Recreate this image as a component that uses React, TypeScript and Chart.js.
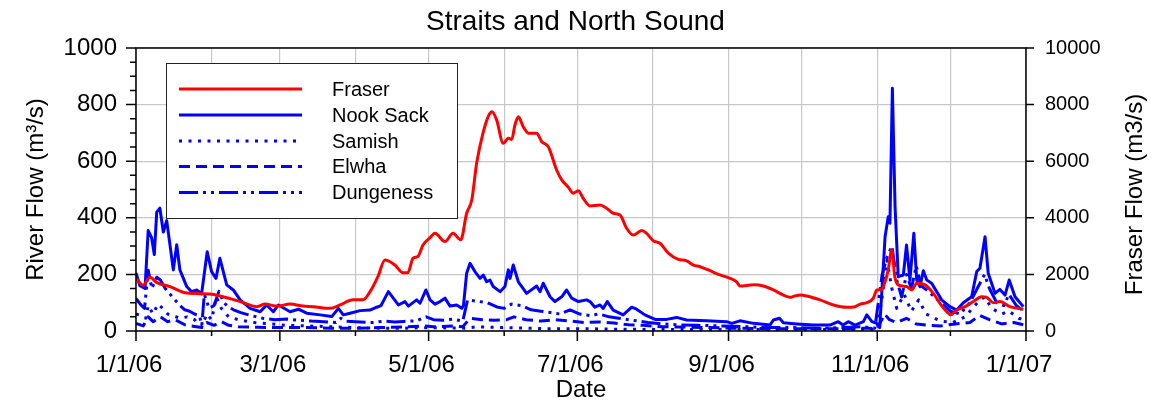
import React, { useEffect, useRef } from 'react';
import { Chart, registerables } from 'chart.js';

Chart.register(...registerables);

const FONT = "'Liberation Sans', Arial, Helvetica, sans-serif";

// x axis: day of year 2006 (0 = 1/1/06, 365 = 1/1/07)
const monthStarts = [0, 31, 59, 90, 120, 151, 181, 212, 243, 273, 304, 334, 365];
const monthLabels = ['1/1/06', '', '3/1/06', '', '5/1/06', '', '7/1/06', '', '9/1/06', '', '11/1/06', '', '1/1/07'];
const leftTicks = [0, 200, 400, 600, 800, 1000];
const rightTicks = [0, 2000, 4000, 6000, 8000, 10000];

// Fraser (right axis, m3/s)
const fraserDays = [0, 2.9, 5.7, 8.6, 13.9, 20.9, 30.3, 35.7, 42.7, 49.6, 52.9, 57.8, 63.2, 68.5, 72.6, 79.6, 83.7, 89, 93.1, 96, 99.2, 102.1, 106.2, 109.5, 111.5, 113.6, 115.6, 117.7, 120.6, 122.6, 126.7, 130, 133.2, 135.6, 137.7, 139.7, 142.3, 144.4, 146, 147.9, 150.6, 152.7, 154.1, 155.4, 156.8, 158.8, 160.9, 164.3, 166.4, 169.1, 172.5, 174.6, 177.3, 179.3, 181.4, 183.4, 186.2, 190.3, 193, 195.7, 198.5, 201.2, 203.9, 207.4, 209.4, 212.1, 214.9, 218.3, 222.4, 225.8, 228.6, 231.3, 235.4, 239.5, 243.6, 246.3, 247.7, 253.2, 257.3, 261.4, 265.5, 268.2, 270.3, 272.3, 275, 280.5, 286, 291.5, 294.9, 297, 299.7, 302.4, 303.8, 305.8, 307.2, 308.5, 309.9, 311.2, 312.6, 316, 318.1, 320.2, 323.6, 327, 329.7, 332.5, 334.1, 336.6, 340, 343.4, 346.8, 348.9, 351.6, 354.3, 358.4, 363.9];
const fraserFlow = [1860, 1620, 1900, 1710, 1570, 1340, 1310, 1210, 1040, 860, 950, 880, 950, 880, 860, 800, 920, 1100, 1100, 1390, 1920, 2510, 2330, 2060, 2060, 2570, 2630, 3040, 3300, 3450, 3160, 3450, 3220, 4160, 4630, 5930, 6990, 7570, 7750, 7460, 6630, 6810, 6770, 7280, 7570, 7220, 6990, 6990, 6690, 6510, 5690, 5340, 5080, 4870, 4960, 4690, 4420, 4450, 4340, 4160, 4100, 3630, 3390, 3550, 3450, 3190, 3100, 2750, 2530, 2480, 2330, 2270, 2130, 1980, 1860, 1740, 1590, 1630, 1590, 1450, 1270, 1190, 1240, 1270, 1240, 1100, 920, 840, 860, 950, 1000, 1160, 1450, 1470, 1740, 2160, 2860, 1920, 1630, 1570, 1450, 1690, 1630, 1330, 980, 680, 570, 740, 860, 1040, 1210, 1190, 1000, 1040, 860, 770];

// Nook Sack (left axis)
const nookDays = [0, 1.6, 3.7, 5, 6.4, 7.5, 8.5, 9.8, 11.2, 12.6, 15.3, 16.7, 18, 20.8, 22.8, 24.9, 26.9, 29.2, 31, 32.8, 34.4, 37.2, 39.9, 42.7, 46.8, 50.9, 53.6, 56.3, 58.4, 63.2, 66.6, 70, 75.5, 80.3, 83, 85, 87.8, 91.9, 96, 98.7, 100.5, 103.5, 107.6, 110.3, 111.7, 115.1, 116.5, 118.9, 120.6, 122.6, 124.7, 126.7, 128.8, 131.5, 133.6, 134.3, 135.6, 137, 139, 141.1, 142.4, 143.8, 145.2, 146.5, 149.3, 151.3, 152.7, 153.4, 154.7, 156.8, 160.2, 164.3, 165.7, 167, 169.8, 171.8, 174.6, 176.6, 178.7, 181.4, 184.8, 186.2, 188.2, 190.3, 191.6, 193.3, 195.7, 199.8, 203.3, 205.3, 208.7, 212.9, 217.6, 221.7, 225.8, 234, 242.2, 244.3, 247.7, 253.2, 260, 261.4, 263.9, 265.5, 271, 277.8, 284.6, 288, 290, 292.1, 294.9, 298.3, 299.7, 301.8, 303.8, 305, 307.2, 308.5, 309.2, 310.2, 311.3, 312.6, 314.7, 316, 317.4, 319, 320.2, 321.5, 322.9, 324.3, 326.3, 330.4, 333.8, 336.6, 339.3, 342.7, 344.8, 346.1, 348.2, 349.5, 352.3, 354.3, 356.4, 358.1, 360.5, 363.9];
const nookFlow = [205, 160, 150, 355, 330, 270, 420, 434, 350, 390, 216, 305, 216, 157, 139, 145, 131, 280, 210, 186, 257, 163, 145, 110, 80, 68, 92, 68, 92, 68, 77, 63, 57, 51, 80, 57, 63, 72, 74, 84, 90, 139, 92, 104, 88, 110, 98, 145, 110, 95, 104, 116, 88, 92, 80, 90, 204, 239, 210, 186, 198, 174, 180, 157, 139, 157, 216, 186, 233, 174, 133, 159, 139, 169, 121, 104, 121, 145, 116, 104, 110, 104, 84, 92, 80, 104, 74, 57, 84, 77, 57, 41, 41, 48, 39, 36, 33, 27, 36, 27, 21, 39, 45, 29, 25, 21, 21, 33, 21, 33, 21, 33, 57, 33, 27, 12, 333, 404, 381, 858, 439, 192, 198, 304, 180, 345, 180, 157, 213, 180, 169, 110, 86, 74, 100, 121, 210, 222, 333, 204, 133, 147, 127, 180, 121, 86];

// Samish (left axis)
const samishDays = [0, 2, 4, 5, 7, 9, 11, 13, 15, 18, 21, 24, 27, 29, 31, 33, 35, 38, 42, 48, 55, 62, 70, 80, 90, 100, 110, 120, 135, 140, 150, 160, 170, 185, 200, 220, 240, 260, 280, 300, 304, 306, 308, 310, 312, 315, 318, 321, 324, 330, 335, 340, 345, 348, 351, 355, 358, 362, 364];
const samishFlow = [60, 55, 45, 90, 60, 95, 80, 60, 55, 45, 50, 40, 15, 60, 40, 120, 80, 50, 40, 30, 25, 20, 18, 15, 12, 10, 10, 12, 10, 15, 12, 10, 8, 8, 6, 5, 5, 5, 5, 6, 5, 120, 250, 150, 80, 130, 70, 110, 60, 35, 30, 50, 100, 120, 80, 60, 70, 45, 40];

// Elwha (left axis)
const elwhaDays = [0, 3, 5, 7, 10, 13, 16, 20, 24, 27, 29, 32, 35, 38, 42, 50, 60, 70, 80, 90, 100, 110, 118, 122, 130, 134, 137, 142, 147, 152, 155, 160, 166, 172, 178, 184, 190, 196, 202, 208, 216, 225, 235, 245, 260, 275, 290, 300, 304, 307, 309, 312, 316, 320, 325, 330, 336, 342, 346, 350, 355, 360, 364];
const elwhaFlow = [27, 18, 50, 33, 50, 33, 40, 22, 16, 12, 30, 20, 33, 20, 15, 13, 12, 12, 10, 10, 12, 14, 18, 15, 18, 15, 45, 40, 38, 40, 50, 40, 35, 40, 35, 30, 32, 28, 22, 20, 15, 14, 12, 10, 8, 8, 8, 10, 8, 60, 40, 30, 45, 25, 20, 18, 25, 30, 55, 40, 25, 30, 22];

// Dungeness (left axis)
const dungDays = [0, 2, 3.5, 5, 6.5, 8.5, 10, 12, 14, 16, 18, 20, 22, 24, 26, 27, 28, 30, 32, 34, 36, 38, 40, 43, 47, 52, 57, 62, 67, 72, 77, 82, 84, 86, 92, 97, 102, 106, 110, 115, 119, 122, 126, 130, 134, 136, 140, 144, 148, 151, 154, 158, 162, 166, 170, 174, 178, 182, 186, 190, 194, 198, 202, 206, 210, 216, 222, 230, 240, 250, 260, 270, 280, 290, 298, 303, 306, 308, 310, 312, 314, 316, 318, 320, 322, 325, 330, 334, 338, 342, 345, 348, 350, 353, 356, 358, 361, 364];
const dungFlow = [115, 92, 80, 215, 150, 190, 180, 150, 130, 110, 90, 75, 70, 60, 55, 20, 130, 80, 90, 140, 100, 85, 75, 65, 55, 45, 40, 42, 38, 35, 33, 30, 45, 35, 32, 30, 35, 32, 34, 36, 50, 40, 38, 42, 35, 110, 105, 100, 85, 80, 95, 90, 75, 70, 65, 60, 75, 60, 55, 60, 50, 45, 40, 35, 30, 25, 22, 20, 18, 15, 12, 12, 10, 12, 15, 10, 200, 260, 300, 180, 120, 200, 150, 230, 160, 140, 100, 70, 60, 100, 150, 200, 150, 100, 90, 130, 90, 70];

const RIGHT_TITLE = 'Fraser Flow (m3/s)';

const pts = (d: number[], v: number[]) => d.map((x, i) => ({ x, y: v[i] }));

const legendPlugin = {
  id: 'customFrameLegend',
  afterDraw(chart: any) {
    const { ctx, chartArea: a, scales } = chart;
    ctx.save();
    // frame
    ctx.strokeStyle = '#000';
    ctx.lineWidth = 1.5;
    ctx.strokeRect(a.left, a.top, a.right - a.left, a.bottom - a.top);
    // x ticks
    ctx.beginPath();
    monthStarts.forEach((d, i) => {
      const px = scales.x.getPixelForValue(d);
      const len = i % 2 === 0 ? 10 : 5;
      ctx.moveTo(px, a.bottom);
      ctx.lineTo(px, a.bottom + len);
    });
    // left ticks (major + minor)
    for (let v = 0; v <= 1000; v += 50) {
      const py = scales.y.getPixelForValue(v);
      const len = v % 200 === 0 ? 10 : 6;
      ctx.moveTo(a.left - len, py);
      ctx.lineTo(a.left, py);
    }
    // right ticks
    rightTicks.forEach((v) => {
      const py = scales.y2.getPixelForValue(v);
      ctx.moveTo(a.right, py);
      ctx.lineTo(a.right + 8, py);
    });
    ctx.stroke();

    // right axis title, reading bottom to top
    ctx.save();
    ctx.translate(1135, (a.top + a.bottom) / 2 + 5);
    ctx.rotate(-Math.PI / 2);
    ctx.font = `24px ${FONT}`;
    ctx.fillStyle = '#000';
    ctx.textAlign = 'center';
    ctx.textBaseline = 'middle';
    ctx.fillText(RIGHT_TITLE, 0, 0);
    ctx.restore();

    // legend box
    const bx = 166, by = 63, bw = 291, bh = 155;
    ctx.fillStyle = '#fff';
    ctx.fillRect(bx, by, bw, bh);
    ctx.strokeStyle = '#222';
    ctx.lineWidth = 1;
    ctx.strokeRect(bx + 0.5, by + 0.5, bw, bh);
    const rowY = [89, 115, 141, 166.5, 192.5];
    ctx.font = `20px ${FONT}`;
    ctx.textBaseline = 'middle';
    ctx.textAlign = 'left';
    chart.data.datasets.forEach((ds: any, i: number) => {
      const y = rowY[i];
      ctx.beginPath();
      ctx.strokeStyle = ds.borderColor;
      ctx.lineWidth = ds.borderWidth;
      ctx.setLineDash(ds.borderDash || []);
      ctx.moveTo(179, y);
      ctx.lineTo(302, y);
      ctx.stroke();
      ctx.setLineDash([]);
      ctx.fillStyle = '#000';
      ctx.fillText(ds.label, 332, y + 1);
    });
    ctx.restore();
  },
};

export default function App() {
  const ref = useRef<HTMLCanvasElement | null>(null);
  useEffect(() => {
    document.body.style.margin = '0';
    const canvas = ref.current;
    if (!canvas) return;
    const chart = new Chart(canvas, {
      type: 'line',
      data: {
        datasets: [
          { label: 'Fraser', data: pts(fraserDays, fraserFlow), yAxisID: 'y2', borderColor: '#ff0000', borderWidth: 3, cubicInterpolationMode: 'monotone' },
          { label: 'Nook Sack', data: pts(nookDays, nookFlow), yAxisID: 'y', borderColor: '#0000ff', borderWidth: 3 },
          { label: 'Samish', data: pts(samishDays, samishFlow), yAxisID: 'y', borderColor: '#0000ff', borderWidth: 3, borderDash: [3, 6.5] },
          { label: 'Elwha', data: pts(elwhaDays, elwhaFlow), yAxisID: 'y', borderColor: '#0000ff', borderWidth: 3, borderDash: [11, 6] },
          { label: 'Dungeness', data: pts(dungDays, dungFlow), yAxisID: 'y', borderColor: '#0000ff', borderWidth: 3, borderDash: [19, 5, 3, 5, 3, 5] },
        ] as any,
      },
      options: {
        animation: false,
        responsive: false,
        maintainAspectRatio: false,
        elements: { point: { radius: 0 }, line: { borderJoinStyle: 'round', tension: 0, fill: false } },
        layout: { padding: 0 },
        plugins: {
          legend: { display: false },
          tooltip: { enabled: false },
          title: {
            display: true,
            text: 'Straits and North Sound',
            color: '#000',
            font: { family: FONT, size: 28, weight: 'normal', lineHeight: 1.2 },
            padding: { top: 5, bottom: 9.4 },
          },
        },
        scales: {
          x: {
            type: 'linear',
            min: 0,
            max: 365,
            afterBuildTicks: (axis: any) => {
              axis.ticks = monthStarts.map((v) => ({ value: v }));
            },
            afterFit: (scale: any) => {
              scale.height = 71;
            },
            ticks: {
              autoSkip: false,
              maxRotation: 0,
              minRotation: 0,
              padding: 20,
              labelOffset: -7,
              color: '#000',
              font: { family: FONT, size: 24 },
              callback: (value: any) => {
                const i = monthStarts.indexOf(Number(value));
                return i >= 0 ? monthLabels[i] : '';
              },
            },
            grid: { color: '#c8c8c8', lineWidth: 1.2, drawTicks: false },
            border: { display: false },
            title: { display: true, text: 'Date', color: '#000', font: { family: FONT, size: 24, lineHeight: 1 }, padding: { top: 0, bottom: 0 } },
          },
          y: {
            position: 'left',
            min: 0,
            max: 1000,
            afterBuildTicks: (axis: any) => {
              axis.ticks = leftTicks.map((v) => ({ value: v }));
            },
            afterFit: (scale: any) => {
              scale.width = 136;
            },
            ticks: { padding: 19, color: '#000', font: { family: FONT, size: 24 }, callback: (v: any) => String(v) },
            grid: { color: '#c8c8c8', lineWidth: 1.2, drawTicks: false },
            border: { display: false },
            title: { display: true, text: 'River Flow (m³/s)', color: '#000', font: { family: FONT, size: 24, lineHeight: 1.2 }, padding: { top: 22 } },
          },
          y2: {
            position: 'right',
            min: 0,
            max: 10000,
            afterBuildTicks: (axis: any) => {
              axis.ticks = rightTicks.map((v) => ({ value: v }));
            },
            afterFit: (scale: any) => {
              scale.width = 125;
            },
            ticks: { padding: 19, color: '#000', font: { family: FONT, size: 20 }, callback: (v: any) => String(v) },
            grid: { drawOnChartArea: false, drawTicks: false },
            border: { display: false },
            title: { display: false },
          },
        },
      } as any,
      plugins: [legendPlugin],
    });
    return () => chart.destroy();
  }, []);

  return (
    <div style={{ position: 'absolute', left: 0, top: 0, width: 1151, height: 402, background: '#fff' }}>
      <canvas ref={ref} width={1151} height={402} style={{ display: 'block', width: 1151, height: 402 }} />
    </div>
  );
}
